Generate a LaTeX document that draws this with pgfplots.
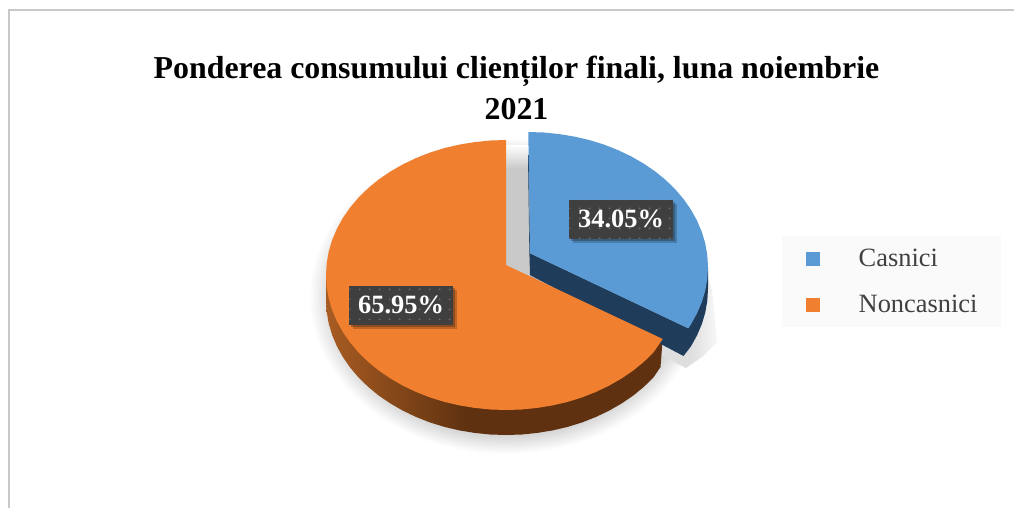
\documentclass[border=0pt]{standalone}
\usepackage{fontspec}
\setmainfont{Liberation Serif}
\usepackage{pgfplots}
\pgfplotsset{compat=1.18}
\usetikzlibrary{patterns.meta,shadows}
\definecolor{blueTop}{HTML}{5B9BD5}
\definecolor{orangeTop}{HTML}{F07F2F}
\definecolor{blueSide}{HTML}{1F3D5A}
\definecolor{wallA}{HTML}{A85C22}
\definecolor{wallB}{HTML}{5F3110}
\definecolor{slitGray}{HTML}{C9C9C9}
\definecolor{softGray}{HTML}{B8B8B8}
\definecolor{labelFill}{HTML}{3F3F3F}
\definecolor{labelDot}{HTML}{666666}
\definecolor{frameGray}{HTML}{C8C8C8}
\definecolor{legendBack}{HTML}{FAFAFA}
\definecolor{legendText}{HTML}{404040}
\pgfdeclarehorizontalshading{wallShade}{100bp}{color(0bp)=(wallA); color(25bp)=(wallA); color(46bp)=(wallB); color(100bp)=(wallB)}
\pgfdeclareverticalshading{slitShade}{100bp}{color(0bp)=(slitGray); color(66bp)=(slitGray); color(75bp)=(white); color(100bp)=(white)}
\pgfdeclareradialshading{pieShadow}{\pgfpoint{0bp}{0bp}}{color(0bp)=(softGray); color(20bp)=(softGray); color(25bp)=(white); color(50bp)=(white)}
\pgfdeclarehorizontalshading{tipShadow}{100bp}{color(0bp)=(black!13); color(55bp)=(black!13); color(75bp)=(black!3); color(100bp)=(black!3)}
\tikzset{pctlabel/.style={fill=labelFill, text=white, inner sep=0pt, minimum width=103.4bp, minimum height=39bp,
  font=\fontsize{26.5}{30}\selectfont\bfseries,
  drop shadow={shadow xshift=2bp, shadow yshift=-2bp, fill=black, opacity=.25},
  drop shadow={shadow xshift=4bp, shadow yshift=-4bp, fill=black, opacity=.2},
  postaction={pattern={Dots[distance=10bp, radius=1.2bp]}, pattern color=labelDot}}}
\begin{document}
\begin{tikzpicture}
\begin{axis}[
  scale only axis, width=1014bp, height=508bp,
  xmin=0, xmax=1014, ymin=0, ymax=508, y dir=reverse,
  hide axis,
  legend cell align=left,
  legend image code/.code={\fill[#1] (0bp,-7bp) rectangle (14bp,7bp);},
  legend style={at={(axis cs:782,236)}, anchor=north west, draw=none, fill=legendBack,
    font=\fontsize{26.5}{28}\selectfont, text=legendText,
    inner xsep=24bp, inner ysep=11bp, row sep=23bp,
    nodes={inner xsep=0bp, inner ysep=2bp},
    /tikz/every odd column/.append style={column sep=38.5bp}},
]
% page
\addplot[draw=none, fill=white, forget plot] coordinates {(0,0)(1014,0)(1014,508)(0,508)} --cycle;
% soft shadow under the pie
\addplot[draw=none, shading=pieShadow, forget plot] coordinates {(309,138)(703,138)(703,454)(309,454)} --cycle;
% shadow of the pulled-out slice
\addplot[draw=none, shading=tipShadow, forget plot] coordinates {(706,272)(712,290)(717,342)(702,357)(686,368)(650,350)} --cycle;
% frame
\addplot[frameGray, line width=2bp, forget plot] coordinates {(9,508)(9,10)(1014,10)};
% gap between the slices
\addplot[draw=none, shading=slitShade, forget plot] coordinates {(506,145)(530,145)(530,276)(506,276)} --cycle;
% wall of the large slice
\addplot[draw=none, shading=wallShade, forget plot] coordinates {
(326,275)(326,300)(326.7,311.8)(328.7,323.4)(332.1,334.9)(336.9,346.2)(342.9,357.1)(350.1,367.5)(358.5,377.4)(368.1,386.8)(378.7,395.5)(390.3,403.4)(402.8,410.6)(416,416.9)(429.9,422.4)(444.4,426.9)(459.4,430.4)(474.7,432.9)(490.3,434.5)(506,435)(521.7,434.5)(537.3,432.9)(552.6,430.4)(567.6,426.9)(582.1,422.4)(596,416.9)(609.2,410.6)(621.7,403.4)(633.3,395.5)(643.9,386.8)(653.5,377.4)(660.5,367)(662.7,339)(506,300)} --cycle;
% wall of the small slice
\addplot[draw=none, fill=blueSide, forget plot] coordinates {
(528,155)(529.4,253.3)(530,275)(683.5,356)(691.1,346.1)(697.1,335.2)(701.9,323.9)(705.3,312.4)(707.3,300.8)(708,289)(708,267)(688.3,328.3)(530,253.3)(528.8,155)} --cycle;
% top of the small slice: Casnici 34.05
\addplot[draw=none, fill=blueTop] coordinates {
(530,253.3)(528.3,132)(543.7,132.5)(559.3,134.1)(574.6,136.6)(589.6,140.1)(604.1,144.6)(618,150.1)(631.2,156.4)(643.7,163.6)(655.3,171.5)(665.9,180.2)(675.5,189.6)(683.9,199.5)(691.1,209.9)(697.1,220.8)(701.9,232.1)(705.3,243.6)(707.3,255.2)(708,267)(707.3,278.8)(705.3,290.4)(701.9,301.9)(697.1,313.2)(691.1,324.1)(688.3,328.3)} --cycle;
\addlegendentry{Casnici}
% top of the large slice: Noncasnici 65.95
\addplot[draw=none, fill=orangeTop] coordinates {
(506,265)(506,140)(490.3,140.5)(474.7,142.1)(459.4,144.6)(444.4,148.1)(429.9,152.6)(416,158.1)(402.8,164.4)(390.3,171.6)(378.7,179.5)(368.1,188.2)(358.5,197.6)(350.1,207.5)(342.9,217.9)(336.9,228.8)(332.1,240.1)(328.7,251.6)(326.7,263.2)(326,275)(326.7,286.8)(328.7,298.4)(332.1,309.9)(336.9,321.2)(342.9,332.1)(350.1,342.5)(358.5,352.4)(368.1,361.8)(378.7,370.5)(390.3,378.4)(402.8,385.6)(416,391.9)(429.9,397.4)(444.4,401.9)(459.4,405.4)(474.7,407.9)(490.3,409.5)(506,410)(521.7,409.5)(537.3,407.9)(552.6,405.4)(567.6,401.9)(582.1,397.4)(596,391.9)(609.2,385.6)(621.7,378.4)(633.3,370.5)(643.9,361.8)(653.5,352.4)(662.7,339)} --cycle;
\addlegendentry{Noncasnici}
\node[pctlabel] at (axis cs:621,219.3) {34.05\%};
\node[pctlabel] at (axis cs:401,305) {65.95\%};
\node[anchor=north, align=center, font=\fontsize{32}{42}\selectfont\bfseries, inner sep=0pt] at (axis cs:516.5,55.5) {Ponderea consumului clienților finali, luna noiembrie\\2021};
\end{axis}
\end{tikzpicture}
\end{document}
